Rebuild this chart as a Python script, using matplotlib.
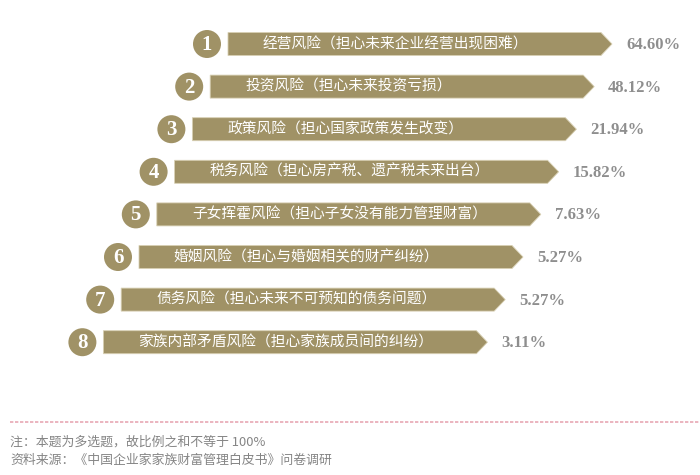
import matplotlib
matplotlib.use("Agg")
import matplotlib.pyplot as plt
from matplotlib.patches import Polygon, Circle

plt.rcParams['font.family'] = ['Noto Sans CJK SC', 'DejaVu Sans']

# data
ranks = [1, 2, 3, 4, 5, 6, 7, 8]
risks = ['经营风险', '投资风险', '政策风险', '税务风险',
         '子女挥霍风险', '婚姻风险', '债务风险', '家族内部矛盾风险']
reasons = ['担心未来企业经营出现困难', '担心未来投资亏损', '担心国家政策发生改变',
           '担心房产税、遗产税未来出台', '担心子女没有能力管理财富',
           '担心与婚姻相关的财产纠纷', '担心未来不可预知的债务问题',
           '担心家族成员间的纠纷']
shares = [64.60, 48.12, 21.94, 15.82, 7.63, 5.27, 5.27, 3.11]

tan = '#a09266'

fig = plt.figure(figsize=(7, 4.75), dpi=100)
ax = fig.add_axes([0, 0, 1, 1])
ax.set_xlim(0, 700)
ax.set_ylim(475, 0)
ax.axis('off')

# stair layout: each row shifts left a bit
for i, (r, risk, why, v) in enumerate(zip(ranks, risks, reasons, shares)):
    y = 44 + 42.6 * i
    left = 228 - 17.8 * i
    tip = left + 384
    h = 11.5
    ax.add_patch(Polygon([(left, y - h), (tip - 11, y - h), (tip, y),
                          (tip - 11, y + h), (left, y + h)],
                         closed=True, facecolor=tan, edgecolor='#d8d0b4', lw=0.6))
    cx = left - 21
    ax.add_patch(Circle((cx, y), 19.5, facecolor='white', edgecolor='none', zorder=3))
    ax.add_patch(Circle((cx, y), 14, facecolor=tan, edgecolor='none', zorder=4))
    ax.text(cx, y + 1, str(r), color='white', fontsize=15, fontweight='bold',
            family='Liberation Serif', ha='center', va='center', zorder=5)
    ax.text(left + 35, y, f'{risk}（{why}）', color='white', fontsize=10.6,
            ha='left', va='center')
    ax.text(tip + 14, y + 1, f'{v:.2f}%', color='#8e8e8e', fontsize=12,
            fontweight='bold', family='Liberation Serif', ha='left', va='center')

# footer
ax.plot([10, 700], [422, 422], color='#e8a8b4', lw=1.2, ls=(0, (2, 1)))
ax.text(10, 442, '注：本题为多选题，故比例之和不等于 100%', color='#858585',
        fontsize=9.3, ha='left', va='center')
ax.text(10, 460, '资料来源：《中国企业家家族财富管理白皮书》问卷调研', color='#858585',
        fontsize=9.3, ha='left', va='center')

fig.savefig('out.png', dpi=100, facecolor='white')
